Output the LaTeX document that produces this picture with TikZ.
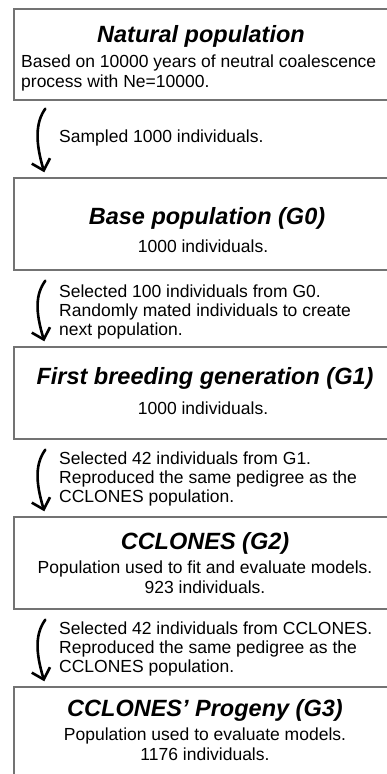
\documentclass[tikz,border=0pt]{standalone}
\usepackage{fontspec}
\setmainfont{Liberation Sans}
\usetikzlibrary{calc,arrows.meta}
\begin{document}
\begin{tikzpicture}[x=1pt,y=-1pt,
  popbox/.style={draw=black!55, line width=1.4pt, fill=white, minimum width=382pt, inner sep=0pt},
  ttl/.style={font=\fontsize{23.5}{26}\selectfont\bfseries\itshape, inner sep=0pt},
  bodytxt/.style={font=\fontsize{17.5}{20}\selectfont, align=center, inner sep=0pt},
  lbl/.style={font=\fontsize{17.5}{19}\selectfont, align=left, anchor=west, inner sep=0pt},
  arr/.style={line width=2.6pt, line cap=round, -{Straight Barb[length=10pt,width=19pt,line width=2.6pt]}}]
\clip (0,0) rectangle (387,774);
\useasboundingbox (0,0) rectangle (387,774);
\fill[white] (0,0) rectangle (387,774);
% boxes
\node[popbox, minimum height=91pt] (b1) at (205,54.5) {};
\node[popbox, minimum height=92pt] (b2) at (205,224) {};
\node[popbox, minimum height=92pt] (b3) at (205,393) {};
\node[popbox, minimum height=92pt] (b4) at (205,563) {};
\node[popbox, minimum height=100pt] (b5) at (205,737) {};
% texts
\node[ttl] (t1) at (201,36) {Natural population};
\node[bodytxt, align=left, anchor=west] (s1) at (21,73) {Based on 10000 years of neutral coalescence\\process with Ne=10000.};
\node[ttl] (t2) at (207,218) {Base population (G0)};
\node[bodytxt] (s2) at (203,246) {1000 individuals.};
\node[ttl] (t3) at (205,378) {First breeding generation (G1)};
\node[bodytxt] (s3) at (203,408) {1000 individuals.};
\node[ttl] (t4) at (205,543) {CCLONES (G2)};
\node[bodytxt] (s4) at (205,577) {Population used to fit and evaluate models.\\923 individuals.};
\node[ttl] (t5) at (205,710) {CCLONES’ Progeny (G3)};
\node[bodytxt] (s5) at (205,744) {Population used to evaluate models.\\1176 individuals.};
% arrow labels
\node[lbl] (l1) at (59,138) {Sampled 1000 individuals.};
\node[lbl] (l2) at (59,312) {Selected 100 individuals from G0.\\Randomly mated individuals to create\\next population.};
\node[lbl] (l3) at (59,479) {Selected 42 individuals from G1.\\Reproduced the same pedigree as the\\CCLONES population.};
\node[lbl] (l4) at (59,649) {Selected 42 individuals from CCLONES.\\Reproduced the same pedigree as the\\CCLONES population.};
% arrow end points
\coordinate (a1s) at ($(b1.south west)+(32,8)$);
\coordinate (a1e) at ($(b2.north west)+(31,-5)$);
\coordinate (a2s) at ($(b2.south west)+(32,10)$);
\coordinate (a2e) at ($(b3.north west)+(31,-5)$);
\coordinate (a3s) at ($(b3.south west)+(32,10)$);
\coordinate (a3e) at ($(b4.north west)+(31,-5)$);
\coordinate (a4s) at ($(b4.south west)+(32,10)$);
\coordinate (a4e) at ($(b5.north west)+(31,-5)$);
\foreach \s/\e in {a1s/a1e,a2s/a2e,a3s/a3e,a4s/a4e}{
  \draw[arr] (\s) .. controls ($(\s)+(-10,14)$) and ($(\e)+(-9,-30)$) .. (\e);
}
\end{tikzpicture}
\end{document}
